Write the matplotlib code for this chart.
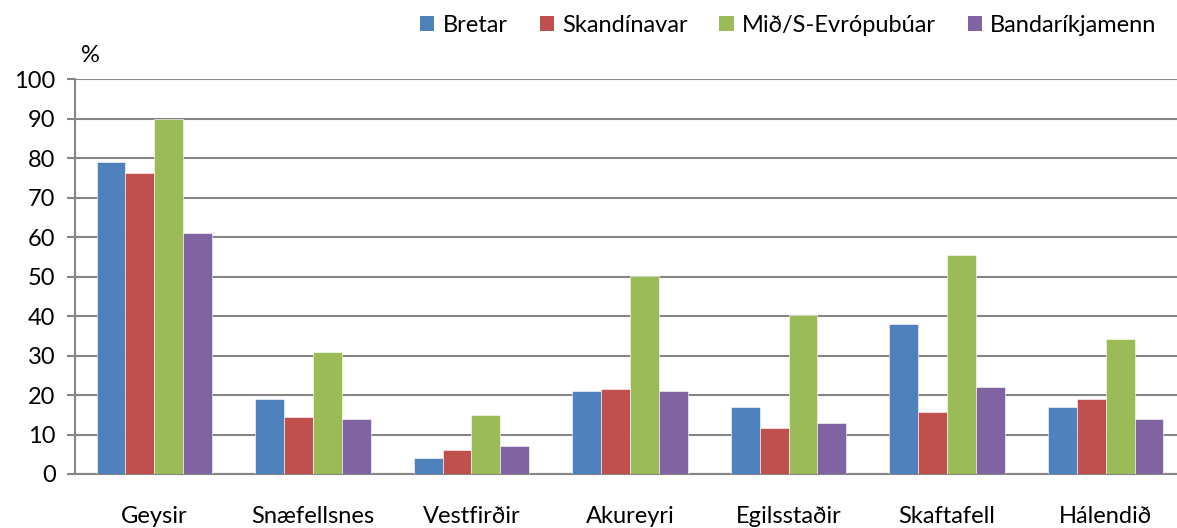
import numpy as np
import matplotlib
matplotlib.use("Agg")
import matplotlib.pyplot as plt
from matplotlib.patches import Patch

categories = ["Geysir", "Snæfellsnes", "Vestfirðir", "Akureyri", "Egilsstaðir", "Skaftafell", "Hálendið"]
series_names = ["Bretar", "Skandínavar", "Mið/S-Evrópubúar", "Bandaríkjamenn"]
bretar = [79, 19, 4, 21, 17, 38, 17]
skandinavar = [76.2, 14.5, 6, 21.6, 11.7, 15.6, 19]
midevropa = [90, 31, 15, 50.1, 40.2, 55.5, 34.2]
bandarikin = [61, 14, 7, 21, 13, 22, 14]
yticks = [0, 10, 20, 30, 40, 50, 60, 70, 80, 90, 100]

colors = ["#4F81BD", "#C0504D", "#9BBB59", "#8064A2"]
series = [bretar, skandinavar, midevropa, bandarikin]

plt.rcParams["font.family"] = ["Lato", "DejaVu Sans"]
FS = 17

W, H = 1177, 528
fig = plt.figure(figsize=(W / 100, H / 100), dpi=100)
ax = fig.add_axes([75 / W, 54 / H, (1177 - 75) / W, 394.7 / H])

x = np.arange(len(categories))
bw = 0.182
for i, (vals, c) in enumerate(zip(series, colors)):
    ax.bar(x + (i - 1.5) * bw, vals, width=bw, color=c, edgecolor="white",
           linewidth=0.4, zorder=3)

ax.set_xlim(-0.5, 6.45)
ax.set_ylim(0, 100)
ax.set_yticks(yticks)
ax.set_yticklabels([str(t) for t in yticks], fontsize=FS)
ax.set_xticks(x)
ax.set_xticklabels(categories, fontsize=FS)
ax.tick_params(axis="x", length=0, pad=23)
ax.tick_params(axis="y", length=6, width=1.5, color="#868686", pad=8)
ax.yaxis.grid(True, color="#868686", linewidth=1.5, zorder=0)
ax.set_axisbelow(True)
for s in ["top", "right"]:
    ax.spines[s].set_visible(False)
for s in ["left", "bottom"]:
    ax.spines[s].set_color("#868686")
    ax.spines[s].set_linewidth(1.5)

fig.text(90 / W, 1 - 55 / H, "%", fontsize=FS, ha="center", va="center")

handles = [Patch(facecolor=c, edgecolor="none") for c in colors]
fig.legend(handles, series_names, loc="center right", bbox_to_anchor=(1166 / W, 1 - 25 / H),
           ncol=4, frameon=False, fontsize=FS, handlelength=0.6, handleheight=0.6,
           handletextpad=0.35, columnspacing=1.35, borderaxespad=0)

fig.savefig("out.png", dpi=100)
